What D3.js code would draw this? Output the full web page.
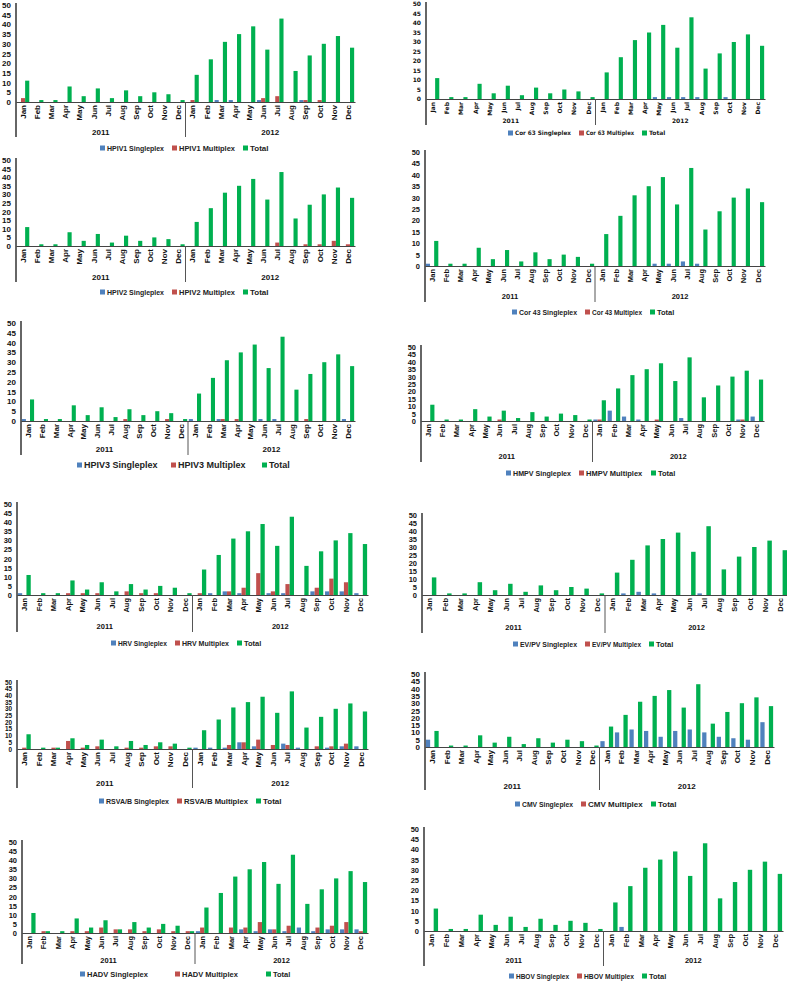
<!DOCTYPE html>
<html><head><meta charset="utf-8">
<script src="https://cdn.jsdelivr.net/npm/d3@7"></script>
<style>body{margin:0;background:#fff}svg{display:block}</style>
</head><body>
<script>
// ---------- DATA ----------
const months = ["Jan","Feb","Mar","Apr","May","Jun","Jul","Aug","Sep","Oct","Nov","Dec"];
const years = ["2011","2012"];
const yTicks = [0,5,10,15,20,25,30,35,40,45,50];

const totalCases = [11,1,1,8,3,7,2,6,3,5,4,1, 14,22,31,35,39,27,43,16,24,30,34,28];

const hpiv1Single = [0,0,0,0,0,0,0,0,0,0,0,0, 0,0,1,1,0,1,0,0,1,0,0,0];
const hpiv1Multi  = [2,0,0,0,0,0,0,0,0,0,0,0, 1,0,0,0,0,2,3,0,1,1,0,0];
const cor63Single = [0,0,0,0,0,0,0,0,0,0,0,0, 0,0,0,0,1,1,1,1,0,1,0,0];
const cor63Multi  = [0,0,0,0,0,0,0,0,0,0,0,0, 0,0,0,0,0,0,0,0,0,0,0,0];
const hpiv2Single = [0,0,0,0,0,0,0,0,0,0,0,0, 0,0,0,0,0,0,0,0,0,0,0,0];
const hpiv2Multi  = [0,0,0,0,0,0,0,0,0,0,0,0, 0,0,0,0,0,0,2,0,1,1,3,1];
const cor43Single = [1,0,0,0,0,0,0,0,0,0,0,0, 0,0,0,0,1,1,2,1,0,0,0,0];
const cor43Multi  = [0,0,0,0,0,0,0,0,0,0,0,0, 0,0,0,0,0,0,0,0,0,0,0,0];
const hpiv3Single = [1,0,0,0,0,0,0,0,0,0,0,0, 1,0,1,0,0,1,1,0,0,0,0,1];
const hpiv3Multi  = [0,0,0,0,0,0,0,1,0,0,1,0, 0,0,1,1,0,0,0,0,1,0,0,0];
const hmpvSingle  = [0,0,0,0,0,0,0,0,0,0,0,0, 1,7,3,1,0,0,2,0,0,0,1,3];
const hmpvMulti   = [0,0,0,0,0,1,0,0,0,0,0,0, 1,0,0,0,1,0,0,0,0,0,1,0];
const hrvSingle   = [1,0,0,0,0,0,0,0,0,0,0,0, 0,1,2,1,0,1,1,0,2,2,2,1];
const hrvMulti    = [0,0,0,1,1,1,0,2,1,1,0,0, 1,0,2,4,12,2,6,0,4,9,7,0];
const evpvSingle  = [0,0,0,0,0,0,0,0,0,0,0,0, 0,1,2,1,0,0,1,0,0,0,0,0];
const evpvMulti   = [0,0,0,0,0,0,0,0,0,0,0,0, 0,0,0,0,0,0,0,0,0,0,0,0];
const rsvSingle   = [0,0,0,0,0,0,0,0,0,0,0,0, 1,1,1,5,2,0,4,1,0,1,2,2];
const rsvMulti    = [1,0,1,6,1,2,0,1,1,2,2,0, 0,0,3,5,7,3,3,0,2,2,4,0];
const cmvSingle   = [5,0,0,0,0,0,0,0,0,0,0,0, 4,10,12,11,7,11,12,10,7,6,5,17];
const cmvMulti    = [0,0,0,0,0,0,0,0,0,0,0,0, 0,0,0,0,0,0,0,0,0,0,0,0];
const hadvSingle  = [0,0,0,0,0,0,0,0,0,0,0,0, 1,0,0,2,1,2,1,3,1,2,2,2];
const hadvMulti   = [0,1,0,1,1,3,2,2,1,2,1,1, 3,0,3,3,6,2,4,0,3,4,6,1];
const hbovSingle  = [0,0,0,0,0,0,0,0,0,0,0,0, 0,2,0,0,0,0,0,0,0,0,0,0];
const hbovMulti   = [0,0,0,0,0,0,0,0,0,0,0,0, 0,0,0,0,0,0,0,0,0,0,0,0];

const panelNames = ["HPIV1","Cor 63","HPIV2","Cor 43","HPIV3","HMPV","HRV","EV/PV","RSVA/B","CMV","HADV","HBOV"];
const panelSingle = [hpiv1Single,cor63Single,hpiv2Single,cor43Single,hpiv3Single,hmpvSingle,hrvSingle,evpvSingle,rsvSingle,cmvSingle,hadvSingle,hbovSingle];
const panelMulti  = [hpiv1Multi,cor63Multi,hpiv2Multi,cor43Multi,hpiv3Multi,hmpvMulti,hrvMulti,evpvMulti,rsvMulti,cmvMulti,hadvMulti,hbovMulti];

// ---------- LAYOUT / STYLE ----------
const colors = ["#4F81BD","#C0504D","#00B050"];
const layout = [
 {ax:16, right:355, top:5,   base:102, year:132, bottom:137, leg:148, lx:[100,172,243], fs:8},
 {ax:426,right:765, top:4,   base:99,  year:121, bottom:125, leg:133, lx:[508,579,642], fs:6, font:"DejaVu Sans"},
 {ax:16, right:355, top:160, base:246, year:277, bottom:282, leg:292, lx:[100,172,243], fs:8},
 {ax:425,right:765, top:152, base:266, year:296, bottom:302, leg:312, lx:[512,585,650], fs:7.5},
 {ax:21, right:355, top:323, base:421, year:449, bottom:455, leg:465, lx:[77,171,262], fs:8, lfs:9},
 {ax:421,right:764, top:347, base:421, year:456, bottom:462, leg:473, lx:[506,579,651], fs:7.5},
 {ax:17, right:368, top:504, base:595, year:626, bottom:632, leg:643, lx:[111,175,237], fs:7.5},
 {ax:422,right:788, top:515, base:595, year:627, bottom:633, leg:644, lx:[513,585,649], fs:7.5},
 {ax:17, right:368, top:682, base:749, year:783, bottom:788, leg:801, lx:[99,177,256], fs:8, tfs:6.4},
 {ax:425,right:774, top:674, base:747, year:786, bottom:790, leg:804, lx:[515,581,651], fs:8},
 {ax:22, right:368, top:842, base:933, year:960, bottom:964, leg:974, lx:[80,175,266], fs:7.5},
 {ax:424,right:783, top:829, base:931, year:960, bottom:966, leg:976, lx:[509,577,642], fs:7.5}
];

const svg = d3.select("body").append("svg").attr("width",787).attr("height",982)
  .style("font-family","'Liberation Sans', Arial, sans-serif").style("font-weight","bold");

panelNames.forEach((name, p) => {
  const L = layout[p];
  const font = L.font || "'Liberation Sans', Arial, sans-serif";
  const g = svg.append("g").style("font-family", font);
  const single = panelSingle[p], multi = panelMulti[p];
  const idx = d3.range(months.length * years.length);
  const x = d3.scaleBand().domain(idx).range([L.ax, L.right]).paddingInner(0.12).paddingOuter(0.06);
  const xs = d3.scaleBand().domain([0,1,2]).range([0, x.bandwidth()]);
  const y = d3.scaleLinear().domain([0,50]).range([L.base, L.top]);

  const rows = idx.map(i => ({i, vals:[single[i], multi[i], totalCases[i]]}));
  g.selectAll("g.cat").data(rows).join("g").attr("class","cat")
    .attr("transform", d => `translate(${x(d.i)},0)`)
    .selectAll("rect").data(d => d.vals.map((v,k)=>({v,k}))).join("rect")
    .attr("x", d => xs(d.k)).attr("width", xs.bandwidth())
    .attr("y", d => y(d.v)).attr("height", d => y(0) - y(d.v))
    .attr("fill", d => colors[d.k]);

  // y axis
  const tfs = L.tfs || L.fs;
  const ya = g.append("g").attr("transform",`translate(${L.ax},0)`)
    .call(d3.axisLeft(y).tickValues(yTicks).tickSize(0).tickPadding(5));
  ya.select(".domain").remove();
  ya.selectAll("text").style("font-size", tfs+"px").style("font-family", font).style("font-weight","bold").attr("fill","#111");

  // x axis
  const xa = g.append("g").attr("transform",`translate(0,${L.base})`)
    .call(d3.axisBottom(x).tickSize(0).tickSizeOuter(0).tickFormat(i => months[i % 12]));
  xa.select(".domain").attr("stroke","#444").attr("stroke-width",1);
  xa.selectAll("text").attr("transform","rotate(-90)").attr("x",-3).attr("y",0).attr("dy","0.35em")
    .attr("text-anchor","end").style("font-size", L.fs+"px").style("font-family", font).style("font-weight","bold").attr("fill","#111");

  // left axis line extended and year divider
  g.append("line").attr("x1",L.ax).attr("x2",L.ax).attr("y1",L.top-2).attr("y2",L.bottom)
    .attr("stroke","#333").attr("stroke-width",1.5);
  const divX = (x(11) + x.bandwidth() + x(12)) / 2;
  g.append("line").attr("x1",divX).attr("x2",divX).attr("y1",L.base).attr("y2",L.bottom)
    .attr("stroke","#555").attr("stroke-width",1);

  // year labels
  years.forEach((yr, k) => {
    const cx = (x(k*12) + x(k*12+11) + x.bandwidth()) / 2;
    g.append("text").attr("x",cx).attr("y",L.year).attr("dy","0.35em").attr("text-anchor","middle")
      .style("font-size", L.fs+"px").style("font-weight","bold").attr("fill","#111").text(yr);
  });

  // legend
  const lfs = L.lfs || L.fs;
  const labels = [name+" Singleplex", name+" Multiplex", "Total"];
  labels.forEach((t,k) => {
    g.append("rect").attr("x",L.lx[k]).attr("y",L.leg - 2.5).attr("width",5).attr("height",5).attr("fill",colors[k]);
    const tx = g.append("text").attr("x",L.lx[k]+7).attr("y",L.leg).attr("dy","0.35em")
      .style("font-size", lfs+"px").style("font-weight","bold").attr("fill","#222").text(t);
    if (k < 2) {
      const maxW = L.lx[k+1] - (L.lx[k]+7) - 8;
      const w = tx.node().getComputedTextLength();
      if (w > maxW) tx.attr("textLength", maxW).attr("lengthAdjust","spacingAndGlyphs");
    }
  });
});
</script>
</body></html>
